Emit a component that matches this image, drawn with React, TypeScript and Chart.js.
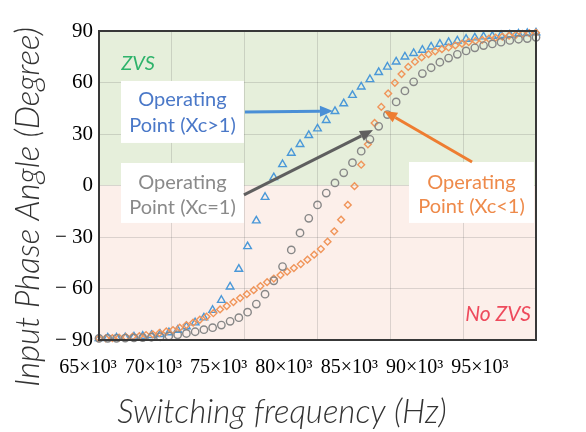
import React, { useEffect, useRef } from 'react';
import { Chart, registerables } from 'chart.js';

Chart.register(...registerables);

// Switching frequency (kHz) for the Xc>1 and Xc=1 sweeps
const freqA = [
  65.0, 65.6, 66.2, 66.8, 67.4, 68.0, 68.6, 69.2, 69.8, 70.4,
  71.0, 71.6, 72.2, 72.8, 73.4, 74.0, 74.6, 75.2, 75.8, 76.4,
  77.0, 77.6, 78.2, 78.8, 79.4, 80.0, 80.6, 81.2, 81.8, 82.4,
  83.0, 83.6, 84.2, 84.8, 85.4, 86.0, 86.6, 87.2, 87.8, 88.4,
  89.0, 89.6, 90.2, 90.8, 91.4, 92.0, 92.6, 93.2, 93.8, 94.4, 95.0,
];

// Switching frequency (kHz) for the Xc<1 sweep
const freqB = [
  65.0, 65.46, 65.92, 66.38, 66.85, 67.31, 67.77, 68.23, 68.69, 69.15,
  69.62, 70.08, 70.54, 71.0, 71.46, 71.92, 72.38, 72.85, 73.31, 73.77,
  74.23, 74.69, 75.15, 75.62, 76.08, 76.54, 77.0, 77.46, 77.92, 78.38,
  78.85, 79.31, 79.77, 80.23, 80.69, 81.15, 81.62, 82.08, 82.54, 83.0,
  83.46, 83.92, 84.38, 84.85, 85.31, 85.77, 86.23, 86.69, 87.15, 87.62,
  88.08, 88.54, 89.0, 89.46, 89.92, 90.38, 90.85, 91.31, 91.77, 92.23,
  92.69, 93.15, 93.62, 94.08, 94.54, 95.0,
];

// Input phase angle (degree)
const phaseXcGt1 = [
  -89.0, -88.7, -88.7, -88.6, -88.1, -87.7, -87.3, -86.7, -85.7, -84.2,
  -82.2, -79.9, -77.0, -72.6, -66.8, -59.0, -48.7, -35.5, -20.5, -6.8,
  4.7, 12.3, 18.9, 24.0, 29.2, 33.1, 38.0, 43.2, 47.7, 52.6,
  57.5, 61.8, 65.9, 69.1, 72.1, 75.0, 77.0, 78.9, 80.8, 82.4,
  83.4, 84.3, 85.3, 86.1, 86.7, 87.1, 87.5, 87.8, 88.3, 88.7, 89.0,
];

const phaseXcEq1 = [
  -89.0, -89.0, -89.0, -88.9, -88.8, -88.6, -88.4, -88.1, -87.6, -87.0,
  -86.2, -85.2, -84.0, -82.8, -81.3, -79.1, -77.0, -73.8, -69.1, -63.3,
  -55.5, -47.2, -37.5, -27.6, -19.1, -11.3, -4.4, 1.5, 7.4, 13.3,
  20.0, 26.9, 34.5, 41.3, 48.7, 55.1, 60.4, 65.2, 68.6, 71.8,
  74.2, 76.4, 78.4, 80.2, 81.5, 82.5, 83.5, 84.5, 85.2, 85.6, 86.3,
];

const phaseXcLt1 = [
  -89.0, -89.0, -88.9, -88.6, -88.3, -88.0, -87.7, -87.1, -86.7, -85.9,
  -85.0, -84.2, -82.8, -81.3, -79.9, -78.2, -76.4, -74.4, -72.2, -70.2,
  -67.9, -65.6, -63.3, -61.0, -58.6, -56.3, -54.2, -52.2, -50.2, -48.1,
  -45.8, -43.2, -40.3, -37.0, -32.7, -26.7, -19.9, -11.3, -0.4, 12.1,
  24.0, 36.4, 45.8, 53.6, 59.8, 64.9, 69.1, 72.1, 74.6, 76.5,
  78.2, 79.4, 80.4, 81.6, 82.6, 83.6, 84.2, 84.8, 85.5, 86.1,
  86.7, 87.3, 87.8, 88.3, 88.7, 89.0,
];

const xTickValues = [65, 70, 75, 80, 85, 90, 95];
const xTickLabels = ['65×10³', '70×10³', '75×10³', '80×10³', '85×10³', '90×10³', '95×10³'];
const yTickValues = [-90, -60, -30, 0, 30, 60, 90];
const yTickLabels = ['− 90', '− 60', '− 30', '0', '30', '60', '90'];

const xTitle = 'Switching frequency (Hz)';
const yTitle = 'Input Phase Angle (Degree)';

const SANS = 'Lato, "Open Sans", sans-serif';
const SERIF = '"Liberation Serif", "DejaVu Serif", serif';
const GRID = 'rgba(90, 90, 90, 0.2)';

function drawArrow(ctx: CanvasRenderingContext2D, x1: number, y1: number, x2: number, y2: number, color: string) {
  const ang = Math.atan2(y2 - y1, x2 - x1);
  const hl = 13;
  const hw = 5.5;
  const bx = x2 - hl * Math.cos(ang);
  const by = y2 - hl * Math.sin(ang);
  ctx.save();
  ctx.strokeStyle = color;
  ctx.fillStyle = color;
  ctx.lineWidth = 3;
  ctx.beginPath();
  ctx.moveTo(x1, y1);
  ctx.lineTo(bx, by);
  ctx.stroke();
  ctx.beginPath();
  ctx.moveTo(x2, y2);
  ctx.lineTo(bx + hw * Math.sin(ang), by - hw * Math.cos(ang));
  ctx.lineTo(bx - hw * Math.sin(ang), by + hw * Math.cos(ang));
  ctx.closePath();
  ctx.fill();
  ctx.restore();
}

const zonePlugin = {
  id: 'zones',
  beforeDraw(chart: any) {
    const { ctx, chartArea: a, scales } = chart;
    const y0 = scales.y.getPixelForValue(0);
    ctx.save();
    ctx.fillStyle = '#e6efdb';
    ctx.fillRect(a.left, a.top, a.right - a.left, y0 - a.top);
    ctx.fillStyle = '#fcefea';
    ctx.fillRect(a.left, y0, a.right - a.left, a.bottom - y0);
    ctx.restore();
  },
};

const annotationPlugin = {
  id: 'notes',
  afterDraw(chart: any) {
    const { ctx, chartArea: a, scales } = chart;
    const X = (v: number) => scales.x.getPixelForValue(v);
    const Y = (v: number) => scales.y.getPixelForValue(v);

    // frame
    ctx.save();
    ctx.strokeStyle = '#383838';
    ctx.lineWidth = 2;
    ctx.strokeRect(a.left, a.top, a.right - a.left, a.bottom - a.top);
    ctx.restore();

    const box = (x1: number, y1: number, x2: number, y2: number) => {
      ctx.save();
      ctx.fillStyle = '#ffffff';
      ctx.fillRect(X(x1), Y(y1), X(x2) - X(x1), Y(y2) - Y(y1));
      ctx.restore();
    };
    const text = (s: string, x: number, y: number, color: string, font: string) => {
      ctx.save();
      ctx.fillStyle = color;
      ctx.font = font;
      ctx.textAlign = 'center';
      ctx.textBaseline = 'middle';
      ctx.fillText(s, X(x), Y(y));
      ctx.restore();
    };

    box(66.51, 60.9, 74.95, 24.8);
    box(66.51, 13.1, 74.95, -21.8);
    box(86.28, 13.7, 94.86, -21.8);

    const f = `20px ${SANS}`;
    text('Operating', 70.73, 49.8, '#4a78c8', f);
    text('Point (Xc>1)', 70.73, 34.7, '#4a78c8', f);
    text('Operating', 70.73, 1.5, '#8a8a8a', f);
    text('Point (Xc=1)', 70.73, -13.1, '#8a8a8a', f);
    text('Operating', 90.57, 1.5, '#ee8a4a', f);
    text('Point (Xc<1)', 90.57, -12.5, '#ee8a4a', f);

    text('ZVS', 67.68, 71.1, '#2fb36b', `italic 20px ${SANS}`);
    text('No ZVS', 92.39, -75.1, '#ee4a5c', `italic 21px ${SANS}`);

    drawArrow(ctx, X(75.02), Y(42.8), X(81.06), Y(43.4), '#4a8fd6');
    drawArrow(ctx, X(74.95), Y(-5.5), X(83.81), Y(32.3), '#5f5f5f');
    drawArrow(ctx, X(90.61), Y(13.7), X(84.57), Y(43.4), '#ee7d31');

    // axis titles
    ctx.save();
    ctx.fillStyle = '#333333';
    ctx.font = `italic 300 33px ${SANS}`;
    ctx.textAlign = 'center';
    ctx.textBaseline = 'middle';
    ctx.fillText(xTitle, 282, 412);
    ctx.translate(28, 207);
    ctx.rotate(-Math.PI / 2);
    ctx.fillText(yTitle, 0, 0);
    ctx.restore();
  },
};

export default function App() {
  const ref = useRef<HTMLCanvasElement | null>(null);

  useEffect(() => {
    document.body.style.margin = '0';
    const canvas = ref.current;
    if (!canvas) return;
    const toPts = (xs: number[], ys: number[]) => xs.map((x, i) => ({ x, y: ys[i] }));
    const chart = new Chart(canvas, {
      type: 'scatter',
      data: {
        datasets: [
          {
            label: 'Xc=1',
            data: toPts(freqA, phaseXcEq1),
            pointStyle: 'circle',
            pointRadius: 3.7,
            borderColor: '#878787',
            backgroundColor: 'rgba(0,0,0,0)',
            borderWidth: 1.4,
            clip: false,
          },
          {
            label: 'Xc<1',
            data: toPts(freqB, phaseXcLt1),
            pointStyle: 'rectRot',
            pointRadius: 3.4,
            borderColor: '#f0955a',
            backgroundColor: 'rgba(0,0,0,0)',
            borderWidth: 1.4,
            clip: false,
          },
          {
            label: 'Xc>1',
            data: toPts(freqA, phaseXcGt1),
            pointStyle: 'triangle',
            pointRadius: 4.4,
            borderColor: '#4a98d8',
            backgroundColor: 'rgba(0,0,0,0)',
            borderWidth: 1.4,
            clip: false,
          },
        ],
      },
      options: {
        animation: false,
        responsive: false,
        events: [],
        layout: { padding: { top: 31, right: 50, left: 0, bottom: 0 } },
        plugins: { legend: { display: false }, tooltip: { enabled: false } },
        scales: {
          x: {
            type: 'linear',
            position: 'bottom',
            min: 65,
            max: 95,
            ticks: { display: false, stepSize: 5 },
            grid: { color: GRID, drawTicks: false },
            border: { display: false },
            afterFit: (s: any) => { s.height = 0; },
          },
          xl: {
            type: 'linear',
            position: 'bottom',
            min: 65,
            max: 98.45,
            grid: { display: false, drawTicks: false },
            border: { display: false },
            afterBuildTicks: (s: any) => { s.ticks = xTickValues.map((v) => ({ value: v })); },
            ticks: {
              autoSkip: false,
              maxRotation: 0,
              minRotation: 0,
              labelOffset: -11,
              padding: 16,
              color: '#000',
              font: { family: SERIF, size: 20 },
              callback: (_v: any, i: number) => xTickLabels[i],
            },
            afterFit: (s: any) => { s.height = 92; },
          },
          y: {
            type: 'linear',
            min: -90,
            max: 90,
            afterBuildTicks: (s: any) => { s.ticks = yTickValues.map((v) => ({ value: v })); },
            ticks: {
              padding: 6,
              color: '#000',
              font: { family: SERIF, size: 21 },
              callback: (_v: any, i: number) => yTickLabels[i],
            },
            grid: { color: GRID, drawTicks: false },
            border: { display: false },
            afterFit: (s: any) => { s.width = 99; },
          },
        },
      } as any,
      plugins: [zonePlugin, annotationPlugin],
    });
    return () => chart.destroy();
  }, []);

  return (
    <div style={{ width: 586, height: 432 }}>
      <canvas ref={ref} width={586} height={432} style={{ display: 'block' }} />
    </div>
  );
}
